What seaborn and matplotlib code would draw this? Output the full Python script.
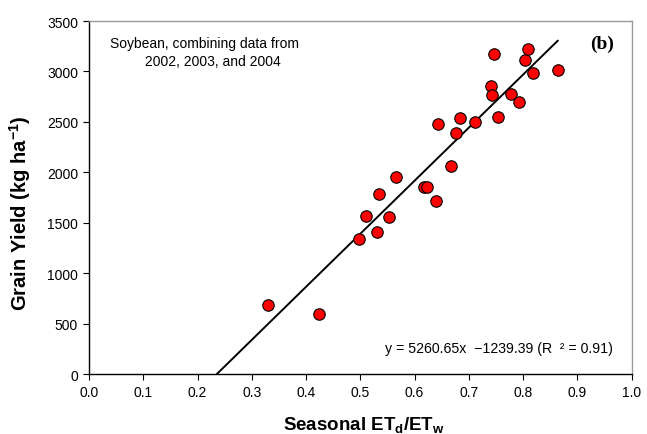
import numpy as np
import pandas as pd
import matplotlib
matplotlib.use("Agg")
import matplotlib.pyplot as plt
import seaborn as sns

# ---- data ----
et_ratio = [0.330, 0.424, 0.4975, 0.510, 0.531, 0.535, 0.552, 0.566, 0.618, 0.622,
            0.639, 0.644, 0.667, 0.676, 0.6845, 0.711, 0.7404, 0.743, 0.7467, 0.754,
            0.777, 0.793, 0.803, 0.809, 0.819, 0.864]
grain_yield = [687, 598, 1338, 1563, 1410, 1786, 1556, 1955, 1858, 1852,
               1716, 2476, 2058, 2391, 2534, 2497, 2851, 2768, 3168, 2547,
               2772, 2696, 3109, 3218, 2983, 3010]
slope = 5260.65
intercept = -1239.39
r2 = 0.91
x_ticks = [0.0, 0.1, 0.2, 0.3, 0.4, 0.5, 0.6, 0.7, 0.8, 0.9, 1.0]
y_ticks = [0, 500, 1000, 1500, 2000, 2500, 3000, 3500]

sns.set_style("ticks")
plt.rcParams['font.family'] = ['Liberation Sans', 'DejaVu Sans']
plt.rcParams['mathtext.fontset'] = 'custom'
plt.rcParams['mathtext.rm'] = 'Liberation Sans'
plt.rcParams['mathtext.it'] = 'Liberation Sans:italic'
plt.rcParams['mathtext.bf'] = 'Liberation Sans:bold'
plt.rcParams['mathtext.default'] = 'bf'
for key in ['text.color', 'axes.labelcolor', 'xtick.color', 'ytick.color',
            'xtick.labelcolor', 'ytick.labelcolor']:
    plt.rcParams[key] = 'black'

df = pd.DataFrame({"x": et_ratio, "y": grain_yield})

fig = plt.figure(figsize=(6.47, 4.35), dpi=100)
ax = fig.add_axes([0.1376, 0.1379, 0.9763 - 0.1376, 0.9494 - 0.1379])

# regression line from zero-yield intercept to max data x
x0 = -intercept / slope
x1 = max(et_ratio)
line_df = pd.DataFrame({"x": [x0, x1]})
line_df["y"] = slope * line_df["x"] + intercept
sns.lineplot(data=line_df, x="x", y="y", ax=ax, color="black", linewidth=1.4, zorder=2)

sns.scatterplot(data=df, x="x", y="y", ax=ax, color="#ff0000", edgecolor="black",
                linewidth=0.8, s=68, zorder=3)

ax.set_xlim(0, 1.0)
ax.set_ylim(0, 3500)
ax.set_xticks(x_ticks)
ax.set_xticklabels([f"{v:.1f}" for v in x_ticks])
ax.set_yticks(y_ticks)
ax.set_yticklabels([str(v) for v in y_ticks])
ax.tick_params(axis='both', labelsize=10, length=4, width=0.8, color='black',
               labelcolor='black', direction='out', pad=4)

for side in ['left', 'bottom']:
    ax.spines[side].set_color('black')
    ax.spines[side].set_linewidth(1.0)
for side in ['top', 'right']:
    ax.spines[side].set_visible(True)
    ax.spines[side].set_color('#999999')
    ax.spines[side].set_linewidth(1.0)

ax.set_xlabel(r"Seasonal ET$_d$/ET$_w$", fontsize=13.5, fontweight='bold')
ax.set_ylabel(r"Grain Yield (kg ha$^{-1}$)", fontsize=14.5, fontweight='bold')
ax.xaxis.set_label_coords(0.506, -0.113)
ax.yaxis.set_label_coords(-0.104, 0.459)

ax.text(0.0387, 0.912, "Soybean, combining data from\n         2002, 2003, and 2004",
        transform=ax.transAxes, fontsize=10, ha='left', va='center', linespacing=1.3)
ax.text(0.967, 0.938, "(b)", transform=ax.transAxes, fontsize=14, fontweight='bold',
        family=['Liberation Serif', 'DejaVu Serif'], ha='right', va='center')
ax.text(0.9655, 0.0737, f"y = {slope:.2f}x  \u2212{abs(intercept):.2f} (R  \u00b2 = {r2:.2f})",
        transform=ax.transAxes, fontsize=10.2, ha='right', va='center')

fig.savefig("out.png", dpi=100)
